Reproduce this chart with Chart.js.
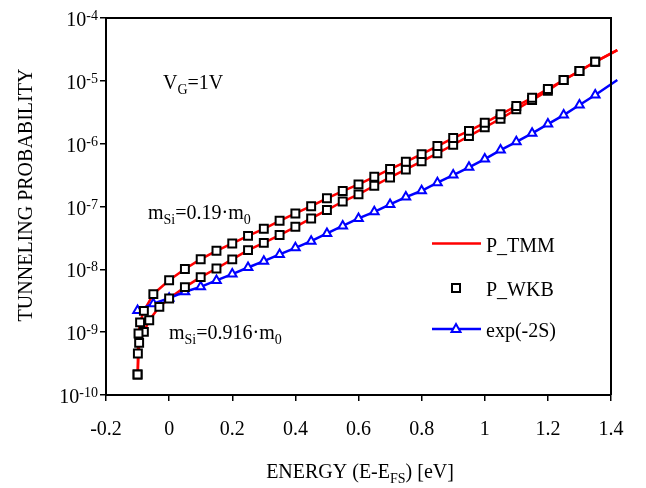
<!DOCTYPE html>
<html>
<head>
<meta charset="utf-8">
<script src="https://cdn.jsdelivr.net/npm/chart.js@4/dist/chart.umd.min.js"></script>
<style>
  html, body { margin: 0; padding: 0; background: #fff; }
  canvas { display: block; }
</style>
</head>
<body>
<canvas id="chart" width="646" height="488"></canvas>
<script>
// --- data ---
// m_Si = 0.19 m0 (upper pair of curves); last point only extends the line past the frame
const energyLight = [-0.1, -0.099, -0.097, -0.092, -0.08, -0.05, 0, 0.05, 0.1, 0.15, 0.2, 0.25, 0.3, 0.35,
    0.4, 0.45, 0.5, 0.55, 0.6, 0.65, 0.7, 0.75, 0.8, 0.85, 0.9, 0.95, 1.0, 1.05, 1.1, 1.15, 1.2, 1.25, 1.3, 1.35, 1.42];
const probLight = [2.12e-10, 4.58e-10, 9.5e-10, 1.43e-9, 2.18e-9, 4.03e-9, 6.7e-9, 1.01e-8, 1.45e-8, 1.97e-8,
    2.58e-8, 3.41e-8, 4.42e-8, 5.92e-8, 7.76e-8, 1.01e-7, 1.35e-7, 1.76e-7, 2.25e-7, 2.97e-7, 3.94e-7, 5.15e-7,
    6.82e-7, 9.16e-7, 1.23e-6, 1.6e-6, 2.15e-6, 2.93e-6, 3.97e-6, 5.38e-6, 7.41e-6, 1.03e-5, 1.43e-5, 2.01e-5, 3.09e-5];

// m_Si = 0.916 m0 (lower pair)
const energyHeavy = [-0.1, -0.095, -0.08, -0.063, -0.031, 0, 0.05, 0.1, 0.15, 0.2, 0.25, 0.3, 0.35,
    0.4, 0.45, 0.5, 0.55, 0.6, 0.65, 0.7, 0.75, 0.8, 0.85, 0.9, 0.95, 1.0, 1.05, 1.1, 1.15, 1.2, 1.25, 1.3, 1.35, 1.42];
const probHeavy = [2.12e-10, 6.76e-10, 1.01e-9, 1.55e-9, 2.53e-9, 3.44e-9, 5.21e-9, 7.52e-9, 1.03e-8, 1.44e-8,
    2.02e-8, 2.64e-8, 3.51e-8, 4.75e-8, 6.46e-8, 8.77e-8, 1.2e-7, 1.56e-7, 2.14e-7, 2.9e-7, 3.89e-7, 5.22e-7,
    7.0e-7, 9.62e-7, 1.32e-6, 1.82e-6, 2.49e-6, 3.52e-6, 4.94e-6, 6.95e-6, 1.03e-5, 1.43e-5, 2.01e-5, 3.09e-5];

// exp(-2S)
const energyExp = [-0.1, -0.05, 0, 0.05, 0.1, 0.15, 0.2, 0.25, 0.3, 0.35, 0.4, 0.45, 0.5, 0.55, 0.6, 0.65,
    0.7, 0.75, 0.8, 0.85, 0.9, 0.95, 1.0, 1.05, 1.1, 1.15, 1.2, 1.25, 1.3, 1.35, 1.42];
const probExp = [2.22e-9, 2.84e-9, 3.48e-9, 4.39e-9, 5.26e-9, 6.65e-9, 8.39e-9, 1.07e-8, 1.35e-8, 1.73e-8,
    2.2e-8, 2.81e-8, 3.73e-8, 4.9e-8, 6.46e-8, 8.24e-8, 1.08e-7, 1.41e-7, 1.78e-7, 2.39e-7, 3.16e-7, 4.2e-7,
    5.69e-7, 7.91e-7, 1.07e-6, 1.46e-6, 2.05e-6, 2.85e-6, 4.12e-6, 5.94e-6, 1.03e-5];

// axis ticks
const xTicks = [-0.2, 0, 0.2, 0.4, 0.6, 0.8, 1, 1.2, 1.4];
const xTickLabels = ['-0.2', '0', '0.2', '0.4', '0.6', '0.8', '1', '1.2', '1.4'];
const yTicks = [1e-10, 1e-9, 1e-8, 1e-7, 1e-6, 1e-5, 1e-4];
const yTickExponents = ['-10', '-9', '-8', '-7', '-6', '-5', '-4'];

const FONT = '"Liberation Serif", "Times New Roman", serif';

const toPoints = (xs, ys) => xs.map((x, i) => ({ x: x, y: ys[i] }));
// hide the marker on the final (line-extension) point
const markerSize = r => ctx => (ctx.dataIndex === ctx.dataset.data.length - 1 ? 0 : r);

// draws text runs with sub/superscripts, returns width
function drawRich(ctx, parts, x, y, align) {
    const widths = parts.map(p => {
        ctx.font = (p.sub || p.sup ? '14px ' : '20px ') + FONT;
        return ctx.measureText(p.t).width;
    });
    const total = widths.reduce((a, b) => a + b, 0);
    let cx = align === 'center' ? x - total / 2 : (align === 'right' ? x - total : x);
    ctx.textAlign = 'left';
    ctx.textBaseline = 'alphabetic';
    parts.forEach((p, i) => {
        ctx.font = (p.sub || p.sup ? '14px ' : '20px ') + FONT;
        const dy = p.sub ? 5 : (p.sup ? -7 : 0);
        ctx.fillText(p.t, cx, y + dy);
        cx += widths[i];
    });
    return total;
}

const decorPlugin = {
    id: 'decor',
    afterDraw(chart) {
        const ctx = chart.ctx;
        const area = chart.chartArea;
        const xs = chart.scales.x;
        const ys = chart.scales.y;
        ctx.save();
        ctx.fillStyle = '#000';
        ctx.strokeStyle = '#000';

        // frame top + right
        ctx.lineWidth = 2;
        ctx.beginPath();
        ctx.moveTo(area.left, area.top);
        ctx.lineTo(area.right, area.top);
        ctx.lineTo(area.right, area.bottom);
        ctx.stroke();

        // y tick labels 10^n
        yTicks.forEach((v, i) => {
            const py = ys.getPixelForValue(v);
            ctx.font = '14px ' + FONT;
            const supW = ctx.measureText(yTickExponents[i]).width;
            ctx.font = '20px ' + FONT;
            const baseW = ctx.measureText('10').width;
            const right = area.left - 8;
            ctx.textAlign = 'left';
            ctx.textBaseline = 'alphabetic';
            ctx.fillText('10', right - supW - baseW, py + 8);
            ctx.font = '14px ' + FONT;
            ctx.fillText(yTickExponents[i], right - supW, py + 2);
        });

        // x tick labels
        ctx.font = '20px ' + FONT;
        ctx.textAlign = 'center';
        ctx.textBaseline = 'alphabetic';
        xTicks.forEach((v, i) => {
            ctx.fillText(xTickLabels[i], xs.getPixelForValue(v), 435);
        });

        // axis titles
        drawRich(ctx, [{ t: 'ENERGY (E-E' }, { t: 'FS', sub: true }, { t: ') [eV]' }], 360, 478, 'center');
        ctx.save();
        ctx.translate(32, 195);
        ctx.rotate(-Math.PI / 2);
        ctx.font = '20px ' + FONT;
        ctx.textAlign = 'center';
        ctx.textBaseline = 'alphabetic';
        ctx.fillText('TUNNELING PROBABILITY', 0, 0);
        ctx.restore();

        // annotations
        drawRich(ctx, [{ t: 'V' }, { t: 'G', sub: true }, { t: '=1V' }], 163, 89, 'left');
        drawRich(ctx, [{ t: 'm' }, { t: 'Si', sub: true }, { t: '=0.19\u00b7m' }, { t: '0', sub: true }], 148, 219, 'left');
        drawRich(ctx, [{ t: 'm' }, { t: 'Si', sub: true }, { t: '=0.916\u00b7m' }, { t: '0', sub: true }], 169, 339, 'left');

        // legend
        const lx1 = 432, lx2 = 481, lxm = 456, tx = 486;
        ctx.lineWidth = 2.5;
        ctx.strokeStyle = '#ff0000';
        ctx.beginPath(); ctx.moveTo(lx1, 243.5); ctx.lineTo(lx2, 243.5); ctx.stroke();
        ctx.fillStyle = '#000';
        drawRich(ctx, [{ t: 'P_TMM' }], tx, 252, 'left');

        ctx.lineWidth = 2;
        ctx.strokeStyle = '#000';
        ctx.fillStyle = '#fff';
        ctx.fillRect(lxm - 4, 288 - 4, 8, 8);
        ctx.strokeRect(lxm - 4, 288 - 4, 8, 8);
        ctx.fillStyle = '#000';
        drawRich(ctx, [{ t: 'P_WKB' }], tx, 296, 'left');

        ctx.lineWidth = 2.5;
        ctx.strokeStyle = '#0000ff';
        ctx.beginPath(); ctx.moveTo(lx1, 329); ctx.lineTo(lx2, 329); ctx.stroke();
        ctx.lineWidth = 2;
        ctx.fillStyle = '#fff';
        ctx.beginPath();
        ctx.moveTo(lxm, 329 - 5);
        ctx.lineTo(lxm + 4.5, 329 + 3);
        ctx.lineTo(lxm - 4.5, 329 + 3);
        ctx.closePath();
        ctx.fill(); ctx.stroke();
        ctx.fillStyle = '#000';
        drawRich(ctx, [{ t: 'exp(-2S)' }], tx, 337, 'left');

        ctx.restore();
    }
};

const lineClip = { left: 2, top: 2, right: 7, bottom: 2 };

new Chart(document.getElementById('chart'), {
    type: 'scatter',
    data: {
        datasets: [
            {
                label: 'P_WKB 0.19',
                data: toPoints(energyLight, probLight),
                showLine: false,
                pointStyle: 'rect',
                pointRadius: markerSize(5.6),
                pointBorderWidth: 2,
                pointBorderColor: '#000',
                pointBackgroundColor: '#fff',
                clip: lineClip,
                order: 1
            },
            {
                label: 'P_WKB 0.916',
                data: toPoints(energyHeavy, probHeavy),
                showLine: false,
                pointStyle: 'rect',
                pointRadius: markerSize(5.6),
                pointBorderWidth: 2,
                pointBorderColor: '#000',
                pointBackgroundColor: '#fff',
                clip: lineClip,
                order: 1
            },
            {
                label: 'exp(-2S)',
                data: toPoints(energyExp, probExp),
                showLine: true,
                borderColor: '#0000ff',
                borderWidth: 2.5,
                tension: 0,
                pointStyle: 'triangle',
                pointRadius: markerSize(5),
                pointBorderWidth: 2,
                pointBorderColor: '#0000ff',
                pointBackgroundColor: '#fff',
                clip: lineClip,
                order: 2
            },
            {
                label: 'P_TMM 0.19',
                data: toPoints(energyLight, probLight),
                showLine: true,
                borderColor: '#ff0000',
                borderWidth: 2.5,
                tension: 0,
                pointRadius: 0,
                clip: lineClip,
                order: 3
            },
            {
                label: 'P_TMM 0.916',
                data: toPoints(energyHeavy, probHeavy),
                showLine: true,
                borderColor: '#ff0000',
                borderWidth: 2.5,
                tension: 0,
                pointRadius: 0,
                clip: lineClip,
                order: 3
            }
        ]
    },
    options: {
        responsive: false,
        animation: false,
        devicePixelRatio: 1,
        layout: { padding: { left: 106, top: 18, right: 35, bottom: 93 } },
        plugins: {
            legend: { display: false },
            tooltip: { enabled: false }
        },
        scales: {
            x: {
                type: 'linear',
                min: -0.2,
                max: 1.4,
                afterBuildTicks: scale => { scale.ticks = xTicks.map(v => ({ value: v })); },
                afterFit: scale => { scale.height = 0; },
                ticks: { display: false },
                grid: { drawOnChartArea: false, drawTicks: true, tickLength: 6, color: '#000', lineWidth: 1.5 },
                border: { display: true, color: '#000', width: 2 }
            },
            y: {
                type: 'logarithmic',
                min: 1e-10,
                max: 1e-4,
                afterBuildTicks: scale => { scale.ticks = yTicks.map(v => ({ value: v })); },
                afterFit: scale => { scale.width = 0; },
                ticks: { display: false },
                grid: { drawOnChartArea: false, drawTicks: true, tickLength: 6, color: '#000', lineWidth: 1.5 },
                border: { display: true, color: '#000', width: 2 }
            }
        }
    },
    plugins: [decorPlugin]
});
</script>
</body>
</html>
